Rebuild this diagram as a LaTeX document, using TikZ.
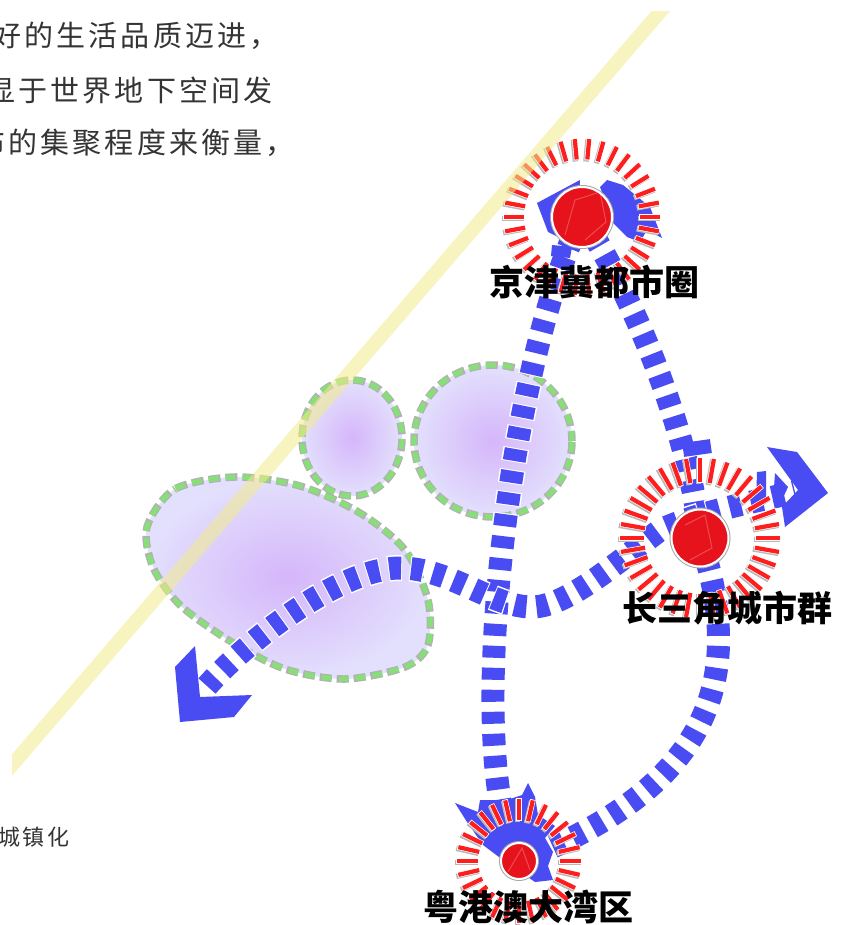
\documentclass[tikz,border=0pt]{standalone}
\usepackage{fontspec}
\usepackage{tikz}
\setmainfont{Noto Sans CJK SC}
\newfontfamily\cjkbody[LetterSpace=11]{Noto Sans CJK SC}
\newfontfamily\cjklabel{Noto Sans CJK SC}
\definecolor{routeblue}{RGB}{72,76,242}
\definecolor{cityred}{RGB}{230,18,28}
\definecolor{ringred}{RGB}{255,30,30}
\definecolor{zonegreen}{RGB}{136,222,120}
\definecolor{zonein}{RGB}{213,182,250}
\definecolor{zoneout}{RGB}{227,224,253}
\definecolor{bandyellow}{RGB}{242,236,140}
\definecolor{bodygray}{RGB}{52,52,52}

\tikzset{
  route/.style={draw=routeblue, line width=23pt, dash pattern=on 12pt off 10pt,
    preaction={draw=white, line width=26pt, dash pattern=on 14pt off 8pt, dash phase=1pt}},
  zone/.style={inner color=zonein, outer color=zoneout},
  zoneline/.style={draw=zonegreen, line width=5pt, dash pattern=on 10pt off 7pt, dash phase=16pt,
    preaction={draw=black!30, line width=7.5pt, dash pattern=on 12pt off 5pt}},
  city/.style={circle, fill=cityred, draw=white, line width=2pt, inner sep=0pt, minimum size=#1,
    preaction={draw=black!35, line width=4pt}},
  body/.style={anchor=west, inner sep=0pt, text=bodygray, font=\cjkbody\fontsize{29}{34}\selectfont},
  citylabel/.style={inner sep=0pt, font=\cjklabel\bfseries\fontsize{35}{40}\selectfont}
}

% ring of radial red ticks round a city: centre, inner r, outer r, count
\newcommand{\cityring}[4]{%
  \begin{scope}[shift={(#1)}]
    \foreach \k in {1,...,#4}{
      \draw[black!28, line width=5.5pt, xshift=-1.3pt, yshift=-1.3pt] (\k*360/#4:#2) -- (\k*360/#4:#3);
      \draw[white, line width=5.5pt] (\k*360/#4:#2) -- (\k*360/#4:#3);
      \draw[ringred, line width=4.2pt] (\k*360/#4:#2+0.8) -- (\k*360/#4:#3-0.8);
    }
  \end{scope}}

\begin{document}
\begin{tikzpicture}[x=1pt,y=-1pt]
  \useasboundingbox (0,0) rectangle (840,925);
  \fill[white] (0,0) rectangle (840,925);
  \clip (0,0) rectangle (840,925);

  % running text
  \node[body] (line1) at (-8,36)   {好的生活品质迈进，};
  \node[body] (line2) at (-14,90)  {显于世界地下空间发};
  \node[body] (line3) at (-24,143) {布的集聚程度来衡量，};
  \node[body, font=\cjkbody\fontsize{22}{26}\selectfont] (line4) at (-2,837) {城镇化};

  % the three zones
  \shade[zone] (352,438) ellipse [x radius=50, y radius=58];
  \draw[zoneline] (352,438) ellipse [x radius=50, y radius=58];
  \shade[zone] (493,441) ellipse [x radius=79, y radius=76];
  \draw[zoneline] (493,441) ellipse [x radius=79, y radius=76];
  \shade[zone] plot[smooth cycle] coordinates {(147,527) (175,489) (235,477) (300,486) (360,513)
    (405,550) (428,600) (428,645) (405,667) (345,679) (285,669) (230,641) (180,605) (153,567)};
  \draw[zoneline] plot[smooth cycle] coordinates {(147,527) (175,489) (235,477) (300,486) (360,513)
    (405,550) (428,600) (428,645) (405,667) (345,679) (285,669) (230,641) (180,605) (153,567)};

  % city centres and route points
  \coordinate (bj)    at (582,217);
  \coordinate (yrd)   at (700,538);
  \coordinate (gba)   at (519,861);
  \coordinate (wtip)  at (207,686);
  \coordinate (hump)  at (400,568);
  \coordinate (dip)   at (532,607);
  \coordinate (yjoin) at (660,530);
  \coordinate (etip)  at (795,492);

  % Draw the routes
  \draw[route] (bj) .. controls (510,360) and (460,760) .. (gba);
  \draw[route] (bj) .. controls (630,290) and (690,430) .. (yrd);
  \draw[route] (yrd) .. controls (740,660) and (730,780) .. (gba);
  \draw[route] (wtip) .. controls +(40,-45) and +(-60,0) .. (hump)
               .. controls +(50,0) and +(-40,0) .. (dip)
               .. controls +(35,0) and +(-40,30) .. (yjoin)
               .. controls +(45,-20) and +(-40,10) .. (etip);

  % arrow heads
  \fill[routeblue] (195,646) -- (175,667) -- (180,722) -- (234,717) -- (252,695) -- (200,697) -- cycle;
  \fill[routeblue] (767,447) -- (797,452) -- (828,493) -- (785,527) -- (782,507) -- (798,490) -- cycle;

  % blue pieces round the cities
  \fill[routeblue] (537,203) -- (580,180) -- (578,215) -- (560,238) -- (548,232) -- cycle;
  \fill[routeblue] (600,187) -- (607,180) -- (623,185) -- (650,207) -- (662,238) -- (647,230)
                   -- (640,242) -- (627,237) -- (613,223) -- cycle;
  \fill[routeblue] (552,245) -- (572,247) -- (570,258) -- (551,256) -- cycle;
  \fill[routeblue, rotate around={8:(697,448)}] (683,441) rectangle (711,455);
  \fill[routeblue] (757,472) -- (766,471) -- (766,500) -- (756,503) -- cycle;
  \fill[routeblue] (775,473) -- (788,487) -- (782,500) -- (773,502) -- cycle;
  \fill[routeblue] (455,803) -- (478,812) -- (480,800) -- (507,800) -- (522,795) -- (528,783)
                   -- (535,797) -- (538,815) -- (555,826) -- (545,838) -- (553,852) -- (548,866)
                   -- (553,880) -- (535,882) -- (503,860) -- (483,845) -- (467,822) -- cycle;

  % city rings and dots
  \cityring{bj}{57}{79}{34}
  \cityring{yrd}{55}{81}{36}
  \cityring{gba}{40}{63}{28}
  \node[city=60pt] (bjdot)  at (bj)  {};
  \node[city=57pt] (yrddot) at (yrd) {};
  \node[city=36pt] (gbadot) at (gba) {};
  \draw[white, opacity=.25, line width=1pt] (565,235) -- (575,200) -- (600,192) -- (606,222) -- (585,240);
  \draw[white, opacity=.25, line width=1pt] (685,525) -- (705,515) -- (712,548) -- (690,560);
  \draw[white, opacity=.25, line width=1pt] (508,872) -- (522,848) -- (530,870);

  % diagonal band
  \begin{scope}
    \clip (12,12) rectangle (840,925);
    \draw[bandyellow, line width=14pt, opacity=.55] (0,779) -- (672,-2);
  \end{scope}

  % city names
  \node[citylabel] (bjname)  at (594,282) {京津冀都市圈};
  \node[citylabel] (yrdname) at (727,608) {长三角城市群};
  \node[citylabel] (gbaname) at (528,907) {粤港澳大湾区};
\end{tikzpicture}
\end{document}
